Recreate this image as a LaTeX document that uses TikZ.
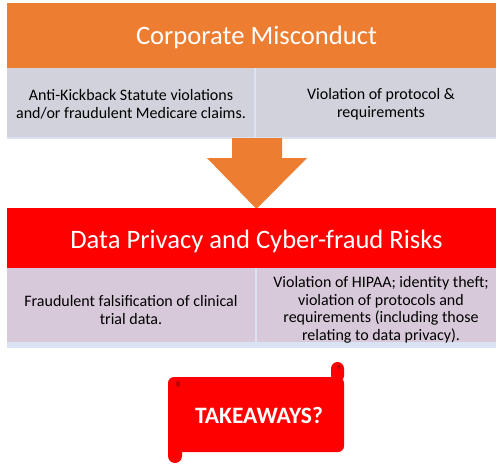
\documentclass[tikz,border=0pt]{standalone}
\usepackage{fontspec}
\setmainfont{Carlito}
\definecolor{orangeH}{RGB}{237,125,49}
\definecolor{grayC}{RGB}{209,210,219}
\definecolor{lavC}{RGB}{216,201,218}
\definecolor{blueL}{RGB}{218,227,243}
\definecolor{redH}{RGB}{255,0,0}
\definecolor{darkR}{RGB}{192,0,0}
\begin{document}
\begin{tikzpicture}[x=1pt,y=-1pt,
  header/.style={anchor=center,text=white,font=\fontsize{26.6}{30}\selectfont},
  celltext/.style={anchor=center,align=center,text=black,font=\fontsize{16}{17.6}\selectfont},
  scrolltext/.style={anchor=center,text=white,font=\bfseries\fontsize{23.5}{26}\selectfont}]
\useasboundingbox (0,0) rectangle (496,466);
\begin{scope}
\clip (0,0) rectangle (496,466);
% top block
\fill[orangeH] (7,3) rectangle (506,68);
\fill[blueL] (7,68) rectangle (506,139);
\fill[grayC] (7,68) rectangle (254,137);
\fill[grayC] (256,68) rectangle (506,137);
% arrow
\fill[orangeH] (232,138) -- (282,138) -- (282,158) -- (307,158) -- (256.5,209) -- (207,158) -- (232,158) -- cycle;
% bottom block
\fill[redH] (7,208) rectangle (506,268);
\fill[blueL] (7,268) rectangle (506,348);
\fill[lavC] (7,268) rectangle (255,342);
\fill[lavC] (257,268) rectangle (506,342);
\end{scope}
\node[header] (h1) at (256.5,37) {Corporate Misconduct};
\node[celltext] (c1) at (131,104.5) {Anti-Kickback Statute violations\\and/or fraudulent Medicare claims.};
\node[celltext] (c2) at (381,104.5) {Violation of protocol \&\\requirements};
\node[header] (h2) at (256.5,241) {Data Privacy and Cyber-fraud Risks};
\node[celltext] (c3) at (131,310) {Fraudulent falsification of clinical\\trial data.};
\node[celltext] (c4) at (381,310) {Violation of HIPAA; identity theft;\\violation of protocols and\\requirements (including those\\relating to data privacy).};
% scroll
\fill[redH,rounded corners=6pt] (168,377) rectangle (344,452);
\fill[redH,rounded corners=6.5pt] (331,362) rectangle (344,382);
\fill[redH,rounded corners=7pt] (168,438) rectangle (182,463);
\fill[darkR] (178,384) ellipse (2pt and 3.5pt);
\fill[darkR] (339,367) circle (2pt);
\fill[redH] (337,371) rectangle (341,375);
\node[scrolltext] (tk) at (259,415) {TAKEAWAYS?};
\end{tikzpicture}
\end{document}
